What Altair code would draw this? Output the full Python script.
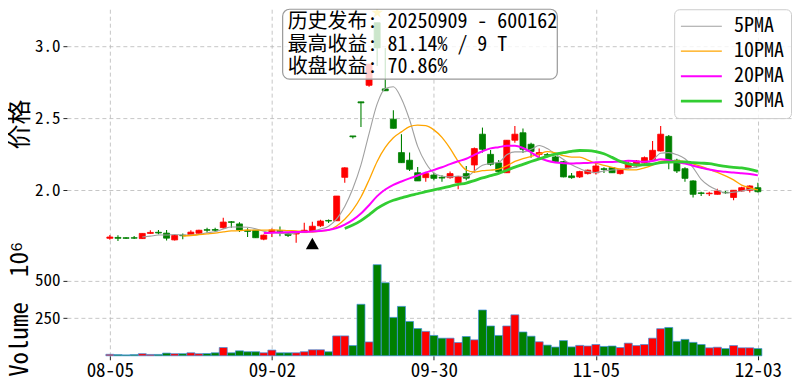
import altair as alt
import pandas as pd

# ---------------- data ----------------
tick_idx = [0, 20, 40, 60, 80]
tick_labels = ["08-05", "09-02", "09-30", "11-05", "12-03"]

opens = [1.666, 1.672, 1.670, 1.670, 1.664, 1.700, 1.708, 1.702, 1.655, 1.688,
         1.692, 1.701, 1.726, 1.727, 1.740, 1.781, 1.766, 1.720, 1.722, 1.660,
         1.708, 1.720, 1.698, 1.696, 1.706, 1.717, 1.753, 1.790, 1.788, 2.090,
         2.378, 2.615, 2.730, 3.165, 2.705, 2.494, 2.262, 2.209, 2.122, 2.088,
         2.106, 2.090, 2.088, 2.053, 2.116, 2.176, 2.390, 2.250, 2.190, 2.122,
         2.348, 2.400, 2.320, 2.250, 2.248, 2.232, 2.199, 2.100, 2.093, 2.116,
         2.122, 2.150, 2.157, 2.116, 2.157, 2.169, 2.190, 2.209, 2.273, 2.375,
         2.209, 2.150, 2.065, 1.982, 1.976, 1.972, 1.986, 1.950, 1.995, 2.000,
         2.018]
highs = [1.689, 1.687, 1.674, 1.682, 1.702, 1.722, 1.724, 1.724, 1.696, 1.700,
         1.722, 1.725, 1.740, 1.740, 1.809, 1.786, 1.778, 1.736, 1.724, 1.692,
         1.735, 1.748, 1.705, 1.712, 1.775, 1.781, 1.795, 1.797, 1.960, 2.160,
         2.378, 2.615, 2.877, 3.165, 2.990, 2.557, 2.390, 2.262, 2.162, 2.120,
         2.120, 2.105, 2.130, 2.100, 2.169, 2.297, 2.436, 2.280, 2.210, 2.350,
         2.447, 2.430, 2.330, 2.290, 2.260, 2.240, 2.205, 2.120, 2.135, 2.145,
         2.190, 2.160, 2.160, 2.150, 2.200, 2.210, 2.235, 2.343, 2.447, 2.385,
         2.220, 2.160, 2.070, 1.990, 1.990, 2.010, 1.995, 2.000, 2.025, 2.035,
         2.053]
lows = [1.656, 1.648, 1.662, 1.662, 1.662, 1.697, 1.694, 1.650, 1.650, 1.660,
        1.685, 1.698, 1.705, 1.710, 1.732, 1.740, 1.710, 1.675, 1.668, 1.652,
        1.675, 1.680, 1.675, 1.635, 1.703, 1.715, 1.745, 1.772, 1.786, 2.053,
        2.360, 2.440, 2.720, 2.865, 2.690, 2.430, 2.190, 2.134, 2.065, 2.060,
        2.070, 2.060, 2.080, 2.007, 2.070, 2.122, 2.262, 2.170, 2.120, 2.120,
        2.330, 2.260, 2.227, 2.230, 2.230, 2.195, 2.090, 2.080, 2.085, 2.110,
        2.110, 2.120, 2.120, 2.110, 2.150, 2.160, 2.185, 2.205, 2.270, 2.146,
        2.120, 2.060, 1.949, 1.960, 1.960, 1.970, 1.975, 1.930, 1.990, 1.985,
        1.985]
closes = [1.675, 1.666, 1.666, 1.667, 1.700, 1.707, 1.703, 1.667, 1.686, 1.684,
          1.709, 1.722, 1.722, 1.722, 1.779, 1.777, 1.724, 1.714, 1.670, 1.688,
          1.724, 1.714, 1.686, 1.705, 1.722, 1.750, 1.786, 1.786, 1.960, 2.156,
          2.372, 2.608, 2.877, 2.990, 2.692, 2.431, 2.192, 2.146, 2.065, 2.116,
          2.083, 2.085, 2.116, 2.095, 2.084, 2.290, 2.285, 2.181, 2.130, 2.348,
          2.390, 2.285, 2.270, 2.262, 2.244, 2.199, 2.093, 2.088, 2.130, 2.140,
          2.169, 2.145, 2.122, 2.146, 2.188, 2.204, 2.227, 2.278, 2.390, 2.210,
          2.134, 2.083, 1.972, 1.978, 1.980, 1.995, 1.983, 2.000, 2.018, 2.030,
          1.990]
volumes = [10, 8, 6, 8, 14, 9, 9, 18, 14, 14,
           20, 14, 15, 20, 55, 20, 33, 27, 27, 20,
           38, 20, 20, 20, 27, 40, 40, 27, 132, 132,
           68, 342, 92, 605, 485, 255, 328, 228, 181, 162,
           135, 117, 117, 88, 128, 106, 304, 198, 135, 198,
           272, 158, 130, 93, 71, 58, 101, 59, 69, 65,
           75, 62, 65, 55, 84, 68, 75, 117, 180, 188,
           96, 109, 89, 75, 53, 57, 48, 68, 53, 53,
           48]  # unit: 10^6

ma_windows = [5, 10, 20, 30]
ma_names = ["5PMA", "10PMA", "20PMA", "30PMA"]
ma_colors = ["#a0a0a0", "#ffa500", "#ff00ff", "#32cd32"]
ma_widths = [1.1, 1.3, 2.0, 2.8]

alert_index = 25
alert_marker_price = 1.63
peak_index = 33
peak_star_price = 3.235
note_lines = ["历史发布: 20250909 - 600162", "最高收益: 81.14% / 9 T", "收盘收益: 70.86%"]

# ---------------- chart ----------------
df = pd.DataFrame({"i": list(range(len(opens))), "open": opens, "high": highs,
                   "low": lows, "close": closes, "vol": volumes})

FONT = "Noto Sans Mono CJK SC, Noto Sans CJK SC, sans-serif"
RED, GREEN = "#ff0000", "#008000"
W, H = 725, 347
GRID = dict(grid=True, gridDash=[4, 3], gridColor="#b8b8b8", gridWidth=0.8)

xscale = alt.Scale(domain=[-5.30, 84.09], nice=False, zero=False, padding=0)
pscale = alt.Scale(domain=[0.849, 3.259], nice=False, zero=False, padding=0)
vscale = alt.Scale(domain=[0, 2301], nice=False, padding=0)

label_expr = ("[" + ",".join(f"'{t}'" for t in tick_labels) + "][indexof("
              + str(tick_idx) + ", datum.value)]")
xaxis = alt.Axis(values=tick_idx, labelExpr=label_expr, title=None, domain=False,
                 ticks=True, tickSize=4, tickColor="#222", labelPadding=2,
                 labelFontSize=19, labelFont=FONT, labelColor="black", **GRID)
X = alt.X("i:Q", scale=xscale, axis=xaxis)

paxis = alt.Axis(values=[2.0, 2.5, 3.0], format=".1f", orient="left", domain=False,
                 tickSize=4, tickColor="#222", labelPadding=3, labelFontSize=17,
                 labelFont=FONT, labelColor="black", title="价格", titleFont=FONT,
                 titleFontSize=25, titleFontWeight="normal", titleColor="black",
                 titleAngle=270, titleBaseline="top", titleAlign="center",
                 titleX=-59, titleY=115, **GRID)
vaxis = alt.Axis(values=[250, 500], orient="left", domain=False,
                 tickSize=4, tickColor="#222", labelPadding=3, labelFontSize=17,
                 labelFont=FONT, labelColor="black", title="Volume\u00a0\u00a010\u2076",
                 titleFont=FONT, titleFontSize=25, titleFontWeight="normal",
                 titleColor="black", titleAngle=270, titleBaseline="top",
                 titleAlign="center", titleX=-59, titleY=300, **GRID)

up = alt.datum.close >= alt.datum.open
col = alt.condition(up, alt.value(RED), alt.value(GREEN))

volume = alt.Chart(df).mark_bar(size=8, strokeWidth=0.7, stroke="#3d8fe0").encode(
    x=X, y=alt.Y("vol:Q", scale=vscale, axis=vaxis), color=col)

wick = alt.Chart(df).mark_rule(strokeWidth=1.1).encode(
    x=X, y=alt.Y("low:Q", scale=pscale, axis=paxis), y2="high:Q", color=col)
body = alt.Chart(df).mark_bar(size=6, strokeWidth=0.8).encode(
    x=X, y=alt.Y("open:Q", scale=pscale, axis=paxis), y2="close:Q", color=col, stroke=col)

# per-entry legend line width, taken from the same lists
width_expr = " : ".join(
    f"datum.value == '{n}' ? {w}" for n, w in zip(ma_names[:-1], ma_widths[:-1])
) + f" : {ma_widths[-1]}"
legend = alt.Legend(
    title=None,
    labelExpr="length(datum.label) < 5 ? '\u00a0' + datum.label : datum.label",
    symbolStrokeWidth={"expr": width_expr},
)
cscale = alt.Scale(domain=ma_names, range=ma_colors)

ma_layers = []
for n, name, w in zip(ma_windows, ma_names, ma_widths):
    ma_layers.append(
        alt.Chart(df).transform_window(
            ma="mean(close)", cnt="count()", frame=[-(n - 1), 0], sort=[alt.SortField("i")]
        ).transform_filter(alt.datum.cnt >= n).transform_calculate(
            name=f"'{name}'"
        ).mark_line(interpolate="monotone", strokeWidth=w).encode(
            x=X, y=alt.Y("ma:Q", scale=pscale, axis=paxis),
            color=alt.Color("name:N", scale=cscale, legend=legend),
            strokeWidth=alt.value(w),
        )
    )

tri = alt.Chart(pd.DataFrame({"i": [alert_index], "p": [alert_marker_price]})).mark_point(
    shape="triangle-up", filled=True, size=170, color="black", opacity=1
).encode(x=X, y=alt.Y("p:Q", scale=pscale, axis=paxis))

STAR = ("M0,-1L0.2245,-0.309L0.9511,-0.309L0.3633,0.118L0.5878,0.809L0,0.382"
        "L-0.5878,0.809L-0.3633,0.118L-0.9511,-0.309L-0.2245,-0.309Z")
star = alt.Chart(pd.DataFrame({"i": [peak_index], "p": [peak_star_price]})).mark_point(
    shape=STAR, filled=True, size=150, color="#ffd700", opacity=1, clip=True
).encode(x=X, y=alt.Y("p:Q", scale=pscale, axis=paxis))

box = alt.Chart(pd.DataFrame({"a": [0]})).mark_rect(
    fill="white", fillOpacity=0.8, stroke="#999999", strokeWidth=1.2, cornerRadius=7
).encode(x=alt.value(216), x2=alt.value(491), y=alt.value(0), y2=alt.value(70))

note = alt.Chart(pd.DataFrame({"t": ["\n".join(note_lines)]})).mark_text(
    align="left", baseline="top", font=FONT, fontSize=20, lineBreak="\n",
    lineHeight=22.5, color="black"
).encode(text="t:N", x=alt.value(221), y=alt.value(3))

price = alt.layer(wick, body, *ma_layers, tri, star, box, note)

LEGEND_LINE = "M-1,0L3,0"
chart = alt.layer(volume, price).resolve_scale(y="independent").properties(
    width=W, height=H, padding=0
).configure_view(stroke=None).configure_legend(
    orient="top-right", offset=0, padding=7, fillColor="rgba(255,255,255,0.8)",
    strokeColor="#cccccc", cornerRadius=5, labelFont=FONT, labelFontSize=20,
    labelColor="black", symbolType=LEGEND_LINE, symbolSize=420, rowPadding=5,
    labelOffset=33
)

chart.save("out.html", embed_options={"renderer": "svg", "actions": False})
